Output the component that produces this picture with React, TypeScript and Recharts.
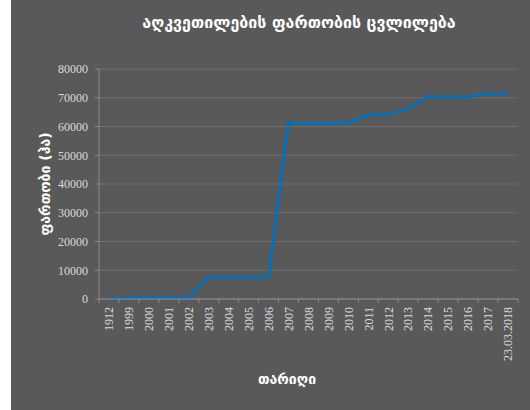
import React from 'react';
import { LineChart, Line, XAxis, YAxis, CartesianGrid } from 'recharts';

const categories = [
    '1912', '1999', '2000', '2001', '2002', '2003', '2004', '2005', '2006', '2007',
    '2008', '2009', '2010', '2011', '2012', '2013', '2014', '2015', '2016', '2017', '23.03.2018'
];
const areaValues = [
    0, 450, 450, 450, 450, 7600, 7600, 7600, 7600, 61200,
    61200, 61200, 61200, 64100, 64100, 66200, 70300, 70300, 70300, 71400, 71400
];
const yTicks = [0, 10000, 20000, 30000, 40000, 50000, 60000, 70000, 80000];

const title = 'აღკვეთილების ფართობის ცვლილება';
const yTitle = 'ფართობი (ჰა)';
const xTitle = 'თარიღი';

const data = categories.map((c, i) => ({ date: c, area: areaValues[i] }));

const BG = '#595959';
const TICK_TEXT = '#d9d9d9';
const AXIS = '#8c8c8c';
const GRID = '#6e6e6e';
const HALF_STEP = 10;
const GEO_FONT = '"DejaVu Sans", sans-serif';
const NUM_FONT = '"Liberation Serif", serif';

const CategoryTick = (props: any) => {
    const { x, y, payload, index } = props;
    const last = index === categories.length - 1;
    return (
        <g transform={`translate(${x},${y})`}>
            <line x1={-HALF_STEP} y1={0} x2={-HALF_STEP} y2={4} stroke={AXIS} />
            {last && <line x1={HALF_STEP} y1={0} x2={HALF_STEP} y2={4} stroke={AXIS} />}
            <text
                transform="rotate(-90)"
                x={-8}
                y={0}
                dy="0.35em"
                textAnchor="end"
                fill={TICK_TEXT}
                fontSize={12}
                fontFamily={NUM_FONT}
            >
                {payload.value}
            </text>
        </g>
    );
};

const App: React.FC = () => {
    return (
        <div style={{ position: 'absolute', left: 11, top: 0, width: 519, height: 410, background: BG }}>
            <div style={{
                position: 'absolute',
                top: 13,
                left: 0,
                width: 576,
                textAlign: 'center',
                color: '#fff',
                fontWeight: 'bold',
                fontSize: 16,
                fontFamily: GEO_FONT
            }}>
                {title}
            </div>
            <div style={{
                position: 'absolute',
                left: 34,
                top: 184,
                transform: 'translate(-50%, -50%) rotate(-90deg)',
                whiteSpace: 'nowrap',
                color: '#fff',
                fontWeight: 'bold',
                fontSize: 14,
                fontFamily: GEO_FONT
            }}>
                {yTitle}
            </div>
            <div style={{
                position: 'absolute',
                left: 276,
                top: 379,
                transform: 'translate(-50%, -50%)',
                whiteSpace: 'nowrap',
                color: '#fff',
                fontWeight: 'bold',
                fontSize: 14,
                fontFamily: GEO_FONT
            }}>
                {xTitle}
            </div>
            <LineChart
                width={519}
                height={410}
                data={data}
                margin={{ top: 69, right: 12, left: 0, bottom: 0 }}
                style={{ position: 'absolute', left: 0, top: 0 }}
            >
                <CartesianGrid vertical={false} stroke={GRID} strokeWidth={1} />
                <XAxis
                    dataKey="date"
                    height={111}
                    interval={0}
                    padding={{ left: HALF_STEP, right: HALF_STEP }}
                    stroke={AXIS}
                    tickLine={false}
                    tickSize={0}
                    tickMargin={0}
                    tick={(p: any) => <CategoryTick {...p} />}
                />
                <YAxis
                    width={88}
                    domain={[0, 80000]}
                    ticks={yTicks}
                    interval={0}
                    stroke={AXIS}
                    tickSize={4}
                    tickMargin={7}
                    tick={{ fill: TICK_TEXT, fontSize: 12, fontFamily: NUM_FONT }}
                />
                <Line
                    type="linear"
                    dataKey="area"
                    stroke="#0070c0"
                    strokeWidth={2.75}
                    dot={false}
                    activeDot={false}
                    isAnimationActive={false}
                />
            </LineChart>
        </div>
    );
};

export default App;
